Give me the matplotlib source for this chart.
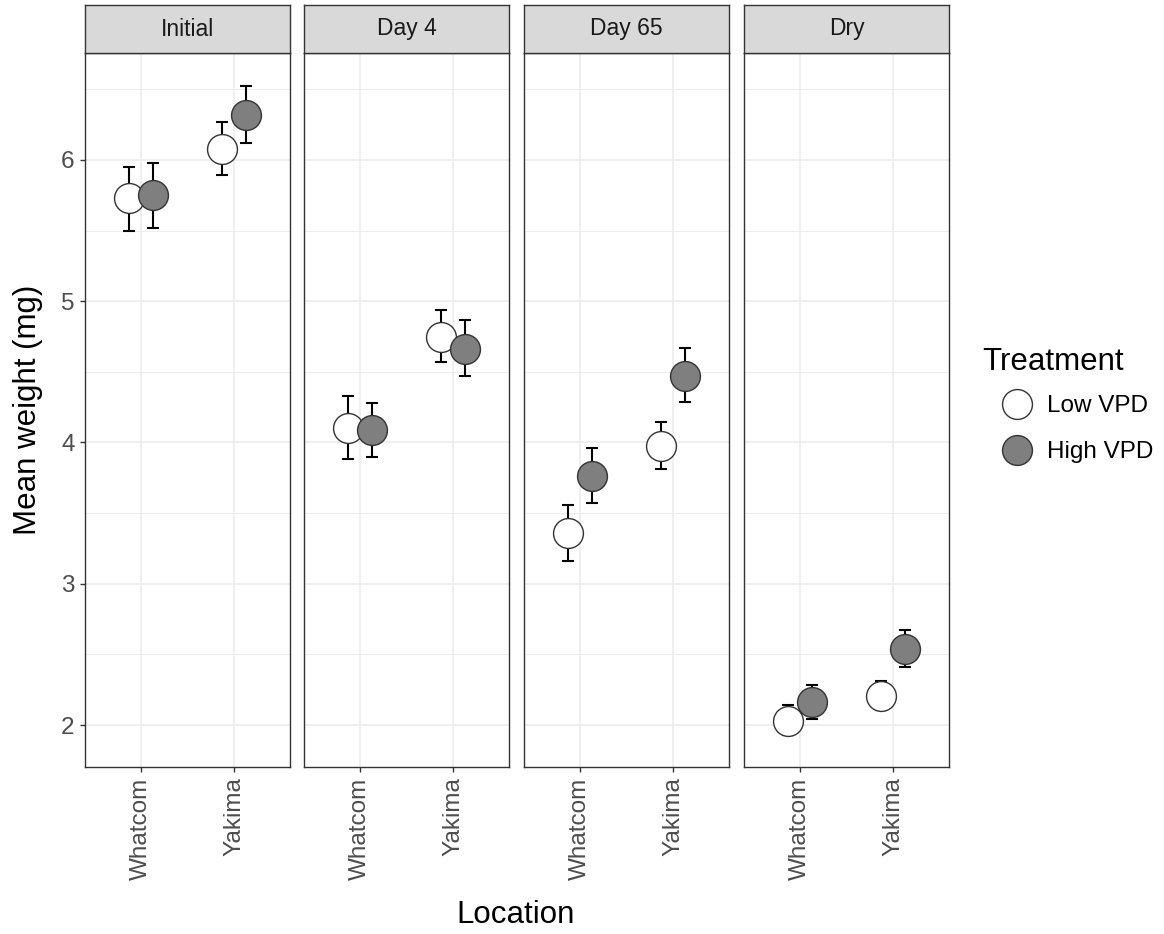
import matplotlib.pyplot as plt
import numpy as np
from matplotlib.lines import Line2D
from matplotlib.ticker import MultipleLocator

plt.rcParams['font.family'] = ['Liberation Sans', 'DejaVu Sans']

## Data ##

stages = ["Initial", "Day 4", "Day 65", "Dry"]
locations = ["Whatcom", "Yakima"]
treatments = ["Low VPD", "High VPD"]

# rows = stage, cols = location
low_mean = [[5.73, 6.08], [4.10, 4.75], [3.36, 3.975], [2.03, 2.205]]
low_lo = [[5.50, 5.89], [3.88, 4.57], [3.16, 3.81], [1.93, 2.11]]
low_hi = [[5.95, 6.27], [4.33, 4.94], [3.56, 4.145], [2.14, 2.31]]

high_mean = [[5.75, 6.32], [4.09, 4.66], [3.76, 4.47], [2.16, 2.54]]
high_lo = [[5.52, 6.12], [3.90, 4.47], [3.57, 4.29], [2.04, 2.41]]
high_hi = [[5.98, 6.52], [4.28, 4.87], [3.96, 4.67], [2.28, 2.67]]

fills = ["white", "#7f7f7f"]

## Layout ##

W, H = 1164, 934
fig = plt.figure(figsize=(W / 100, H / 100), dpi=100)

panel_left = [85, 304, 524, 744]
panel_w = 205
panel_top, panel_bot = 53, 767
strip_top = 5

edge = "#333333"
grid_col = "#ebebeb"

series = [
    (np.array(low_mean), np.array(low_lo), np.array(low_hi)),
    (np.array(high_mean), np.array(high_lo), np.array(high_hi)),
]
dodge = [-0.125, 0.125]
xpos = np.arange(1, len(locations) + 1)

for k, stage in enumerate(stages):
    x0 = panel_left[k]
    ax = fig.add_axes([x0 / W, (H - panel_bot) / H, panel_w / W, (panel_bot - panel_top) / H])
    ax.set_xlim(0.4, 2.6)
    ax.set_ylim(1.703, 6.757)

    for t, (m, lo, hi) in enumerate(series):
        xs = xpos + dodge[t]
        ax.errorbar(xs, m[k], yerr=[m[k] - lo[k], hi[k] - m[k]], fmt="none",
                    ecolor="black", elinewidth=1.5, capsize=4.3, capthick=1.5, zorder=3)
        ax.plot(xs, m[k], "o", ms=21.5, mfc=fills[t], mec=edge, mew=1.0,
                linestyle="none", zorder=4)

    ax.set_xticks(xpos)
    ax.set_xticklabels(locations)
    ax.yaxis.set_major_locator(MultipleLocator(1))
    ax.yaxis.set_minor_locator(MultipleLocator(0.5))
    ax.set_axisbelow(True)
    ax.grid(which="major", color=grid_col, lw=1.1)
    ax.grid(which="minor", axis="y", color=grid_col, lw=0.6)
    ax.tick_params(axis="x", labelrotation=90, labelsize=17.5, labelcolor="#4d4d4d",
                   color=edge, length=3.5, width=1.0, pad=4)
    ax.tick_params(axis="y", which="minor", length=0)
    if k == 0:
        ax.tick_params(axis="y", labelsize=17.5, labelcolor="#4d4d4d",
                       color=edge, length=3.5, width=1.0, pad=4)
    else:
        ax.tick_params(axis="y", which="major", length=0, labelleft=False)
    for s in ax.spines.values():
        s.set_color(edge)
        s.set_linewidth(1.0)

    # facet strip
    sax = fig.add_axes([x0 / W, (H - panel_top) / H, panel_w / W, (panel_top - strip_top) / H])
    sax.set_facecolor("#d9d9d9")
    sax.set_xticks([])
    sax.set_yticks([])
    for s in sax.spines.values():
        s.set_color(edge)
        s.set_linewidth(1.0)
    sax.text(0.5, 0.5, stage, transform=sax.transAxes, ha="center", va="center",
             fontsize=16.5, color="#1a1a1a")

fig.text(516 / W, 1 - 915 / H, "Location", ha="center", va="center", fontsize=22.5)
fig.text(28 / W, 1 - 410 / H, "Mean weight (mg)", ha="center", va="center",
         rotation=90, fontsize=22.5)

# legend: title placed on its own, keys below it
fig.text(982 / W, 1 - 362 / H, "Treatment", ha="left", va="center", fontsize=22.5)
handles = [Line2D([], [], marker="o", ls="none", ms=21.5, mfc=fills[t], mec=edge, mew=1.0)
           for t in range(len(treatments))]
fig.legend(handles, treatments, loc="upper left",
           bbox_to_anchor=(1000 / W, 1 - 395 / H), frameon=False, fontsize=17.5,
           handlelength=1.4, handletextpad=0.55, labelspacing=1.0,
           borderpad=0, borderaxespad=0)

fig.savefig("out.png", dpi=100)
